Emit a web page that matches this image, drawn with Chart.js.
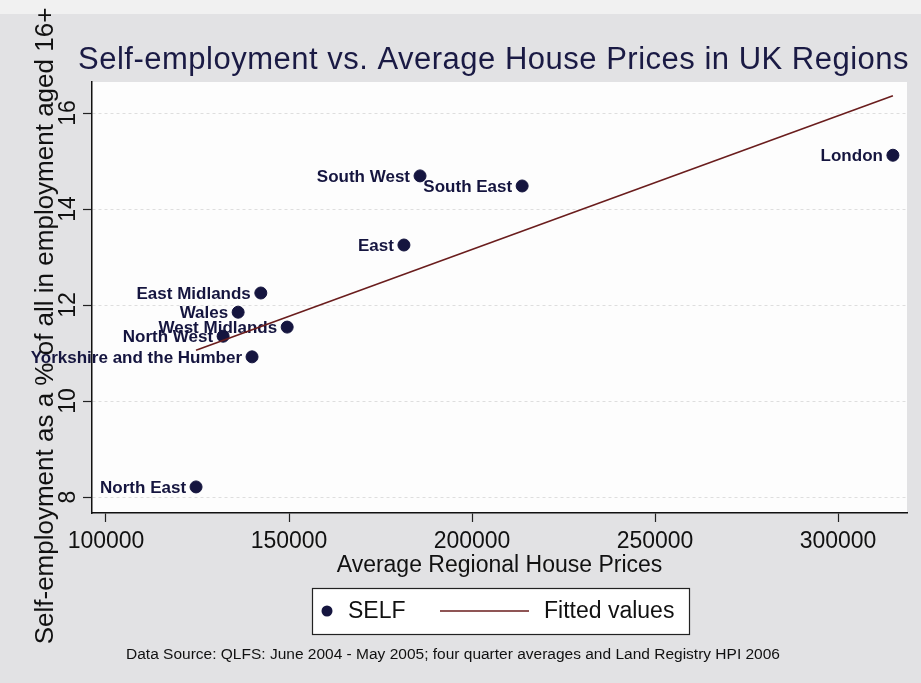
<!DOCTYPE html>
<html>
<head>
<meta charset="utf-8">
<title>Self-employment vs. Average House Prices in UK Regions</title>
<script src="https://cdn.jsdelivr.net/npm/chart.js@4.4.1/dist/chart.umd.min.js"></script>
<style>
  html, body { margin: 0; padding: 0; background: #fff; }
  #wrap { width: 921px; height: 683px; }
</style>
</head>
<body>
<div id="wrap"><canvas id="selfEmp"></canvas></div>
<script>
// regional averages: house price (x) vs self-employment share (y)
const regions = ['London', 'South West', 'South East', 'East', 'East Midlands', 'Wales',
                 'West Midlands', 'North West', 'Yorkshire and the Humber', 'North East'];
const housePrices = [315000, 185800, 213700, 181400, 142300, 136100, 149500, 132000, 139900, 124600];
const selfEmployed = [15.12, 14.69, 14.48, 13.25, 12.25, 11.85, 11.54, 11.35, 10.92, 8.21];

// linear fit, evaluated at the lowest and highest price
const fittedPrices = [124600, 315000];
const fittedValues = [11.06, 16.36];

const xTicks = [100000, 150000, 200000, 250000, 300000];
const yTicks = [8, 10, 12, 14, 16];

const FONT = '"Liberation Sans", Arial, sans-serif';
const NAVY = '#15153f';
const MAROON = '#6a1d1d';
const INK = '#111111';

// grey page, white plot region
const backdrop = {
  id: 'backdrop',
  beforeDraw(chart) {
    const { ctx, width, height, chartArea: a } = chart;
    ctx.save();
    ctx.fillStyle = '#f1f1f1';
    ctx.fillRect(0, 0, width, height);
    ctx.fillStyle = '#e2e2e4';
    ctx.fillRect(0, 14, width, height - 14);
    ctx.fillStyle = '#fdfdfd';
    ctx.fillRect(a.left, a.top, a.right - a.left, a.bottom - a.top);
    ctx.restore();
  }
};

// region names to the left of each marker
const pointNames = {
  id: 'pointNames',
  afterDatasetDraw(chart, args) {
    if (args.index !== 0) return;
    const ctx = chart.ctx;
    ctx.save();
    ctx.font = 'bold 17px ' + FONT;
    ctx.fillStyle = NAVY;
    ctx.textAlign = 'right';
    ctx.textBaseline = 'middle';
    args.meta.data.forEach((pt, i) => ctx.fillText(regions[i], pt.x - 10, pt.y + 1));
    ctx.restore();
  }
};

// title, y axis title, boxed legend and source note
const decorations = {
  id: 'decorations',
  afterDraw(chart) {
    const ctx = chart.ctx;
    const ds = chart.data.datasets;
    ctx.save();

    ctx.fillStyle = '#1a1a44';
    ctx.font = '31px ' + FONT;
    ctx.textAlign = 'left';
    ctx.textBaseline = 'middle';
    ctx.letterSpacing = '0.5px';
    ctx.fillText('Self-employment vs. Average House Prices in UK Regions', 78, 60);
    ctx.letterSpacing = '0px';

    ctx.save();
    ctx.translate(46, 326);
    ctx.rotate(-Math.PI / 2);
    ctx.fillStyle = INK;
    ctx.font = '26px ' + FONT;
    ctx.textAlign = 'center';
    ctx.fillText('Self-employment as a % of all in employment aged 16+', 0, 0);
    ctx.restore();

    // legend
    ctx.fillStyle = '#ffffff';
    ctx.fillRect(312.5, 588.5, 377, 46);
    ctx.strokeStyle = '#222';
    ctx.lineWidth = 1.2;
    ctx.strokeRect(312.5, 588.5, 377, 46);
    ctx.fillStyle = NAVY;
    ctx.beginPath();
    ctx.arc(327, 611, 5.5, 0, Math.PI * 2);
    ctx.fill();
    ctx.strokeStyle = MAROON;
    ctx.lineWidth = 1.6;
    ctx.beginPath();
    ctx.moveTo(440, 611);
    ctx.lineTo(529, 611);
    ctx.stroke();
    ctx.fillStyle = INK;
    ctx.font = '23px ' + FONT;
    ctx.fillText(ds[0].label, 348, 612);
    ctx.fillText(ds[1].label, 544, 612);

    ctx.font = '15.5px ' + FONT;
    ctx.textAlign = 'center';
    ctx.fillText('Data Source: QLFS: June 2004 - May 2005; four quarter averages and Land Registry HPI 2006', 453, 655);
    ctx.restore();
  }
};

new Chart(document.getElementById('selfEmp'), {
  type: 'scatter',
  data: {
    datasets: [
      {
        label: 'SELF',
        data: housePrices.map((p, i) => ({ x: p, y: selfEmployed[i] })),
        backgroundColor: NAVY,
        borderColor: NAVY,
        pointRadius: 6,
        order: 1
      },
      {
        type: 'line',
        label: 'Fitted values',
        data: fittedPrices.map((p, i) => ({ x: p, y: fittedValues[i] })),
        borderColor: MAROON,
        borderWidth: 1.6,
        pointRadius: 0,
        fill: false,
        order: 0
      }
    ]
  },
  options: {
    responsive: true,
    maintainAspectRatio: false,
    animation: false,
    events: [],
    layout: { padding: { top: 82, right: 14, bottom: 103.2, left: 0 } },
    plugins: {
      legend: { display: false },
      title: { display: false },
      tooltip: { enabled: false }
    },
    scales: {
      x: {
        type: 'linear',
        min: 96175,
        max: 318850,
        afterBuildTicks: s => { s.ticks = xTicks.map(v => ({ value: v })); },
        afterFit: s => { s.height = 66.8; },
        ticks: {
          callback: v => String(v),
          font: { family: FONT, size: 23, lineHeight: 1 },
          color: INK,
          padding: 8,
          maxRotation: 0
        },
        grid: { drawOnChartArea: false, drawTicks: true, tickLength: 9, tickColor: '#222', tickWidth: 1.2 },
        border: { color: '#111', width: 1.5 },
        title: {
          display: true,
          text: 'Average Regional House Prices',
          font: { family: FONT, size: 23 },
          color: INK,
          padding: { top: 0, bottom: 0 }
        }
      },
      y: {
        min: 7.667,
        max: 16.646,
        afterBuildTicks: s => { s.ticks = yTicks.map(v => ({ value: v })); },
        afterFit: s => { s.width = 92; },
        ticks: {
          callback: v => String(v),
          font: { family: FONT, size: 23, lineHeight: 1 },
          color: INK,
          padding: 2,
          minRotation: 90,
          maxRotation: 90,
          crossAlign: 'center'
        },
        grid: { color: '#dedede', lineWidth: 1, tickLength: 9, tickColor: '#222', tickWidth: 1.2 },
        border: { color: '#111', width: 1.5, dash: [3, 3] }
      }
    }
  },
  plugins: [backdrop, pointNames, decorations]
});
</script>
</body>
</html>
